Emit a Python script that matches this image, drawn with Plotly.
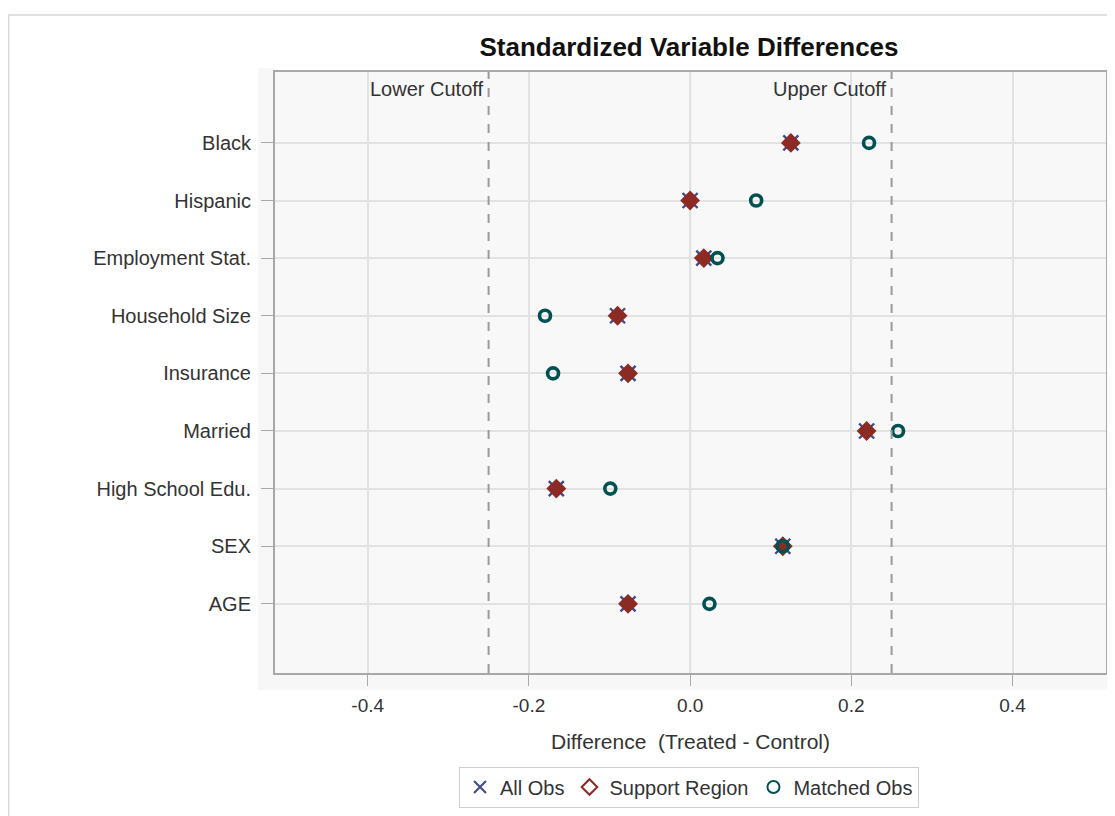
import plotly.graph_objects as go

categories = ["AGE", "SEX", "High School Edu.", "Married", "Insurance",
              "Household Size", "Employment Stat.", "Hispanic", "Black"]
all_obs = [-0.077, 0.115, -0.166, 0.219, -0.077, -0.090, 0.017, 0.000, 0.125]
support_region = [-0.077, 0.115, -0.166, 0.219, -0.077, -0.090, 0.017, 0.000, 0.125]
matched_obs = [0.024, 0.115, -0.099, 0.258, -0.170, -0.180, 0.034, 0.082, 0.222]
cutoffs = [-0.25, 0.25]
x_ticks = [-0.4, -0.2, 0.0, 0.2, 0.4]

FONT = "Liberation Sans, Arial, sans-serif"
OFF = 8                      # page body margin
L, R, T, B = 275, 1108, 72, 673   # plot frame in page pixels
W, H = 1115 - OFF, 816 - OFF
BLUE, RED, TEAL = "#3d4a8e", "#8c2a24", "#005250"

def px_x(p):
    return (p - L) / (R - L)

def px_y(p):
    return (B - p) / (B - T)

fig = go.Figure()
fig.add_trace(go.Scatter(
    x=all_obs, y=categories, mode="markers", name="All Obs",
    marker=dict(symbol="x-thin-open", size=15, color=BLUE,
                line=dict(width=2.4, color=BLUE)),
))
# solid fill beneath the open diamond so overlapping markers read as a solid glyph
fig.add_trace(go.Scatter(
    x=support_region, y=categories, mode="markers", showlegend=False,
    hoverinfo="skip",
    marker=dict(symbol="diamond", size=12, color=RED, line=dict(width=0)),
))
fig.add_trace(go.Scatter(
    x=support_region, y=categories, mode="markers", name="Support Region",
    marker=dict(symbol="diamond-open", size=12, color=RED,
                line=dict(width=3, color=RED)),
))
fig.add_trace(go.Scatter(
    x=matched_obs, y=categories, mode="markers", name="Matched Obs",
    marker=dict(symbol="circle-open", size=11, color=TEAL,
                line=dict(width=3.6, color=TEAL)),
))

shapes = []
for c in cutoffs:
    shapes.append(dict(type="line", xref="x", yref="paper", x0=c, x1=c, y0=0, y1=1,
                       line=dict(color="#9a9a9a", width=2, dash="dash"), layer="above"))
shapes.append(dict(type="line", xref="x", yref="paper", x0=0, x1=0, y0=0, y1=1,
                   line=dict(color="#c4c4c4", width=2), layer="below"))
shapes.append(dict(type="rect", xref="paper", yref="paper",
                   x0=px_x(8), x1=px_x(1125), y0=px_y(830), y1=px_y(15),
                   line=dict(color="#d8d8d8", width=1.5), fillcolor="rgba(0,0,0,0)"))
shapes.append(dict(type="rect", xref="paper", yref="paper",
                   x0=px_x(258), x1=px_x(L), y0=px_y(690), y1=px_y(68),
                   line=dict(width=0), fillcolor="#f7f7f7", layer="below"))
shapes.append(dict(type="rect", xref="paper", yref="paper",
                   x0=px_x(258), x1=px_x(1112), y0=px_y(690), y1=px_y(B),
                   line=dict(width=0), fillcolor="#f7f7f7", layer="below"))

annotations = [
    dict(text="Lower Cutoff", x=cutoffs[0], xref="x", y=px_y(89), yref="paper",
         xanchor="right", xshift=-4, yanchor="middle", showarrow=False,
         font=dict(family=FONT, size=20, color="#333333")),
    dict(text="Upper Cutoff", x=cutoffs[1], xref="x", y=px_y(89), yref="paper",
         xanchor="right", xshift=-4, yanchor="middle", showarrow=False,
         font=dict(family=FONT, size=20, color="#333333")),
]

fig.update_layout(
    width=W, height=H,
    margin=dict(l=L - OFF, r=OFF + W - R, t=T - OFF, b=OFF + H - B),
    paper_bgcolor="white",
    plot_bgcolor="#f8f8f8",
    title=dict(text="<b>Standardized Variable Differences</b>", x=px_x(690),
               xref="paper", xanchor="center", y=1 - (47 - OFF) / H, yanchor="middle",
               font=dict(family=FONT, size=26, color="#111111")),
    font=dict(family=FONT, size=20, color="#333333"),
    xaxis=dict(range=[-0.515, 0.516], tickvals=x_ticks,
               ticktext=["-0.4", "-0.2", "0.0", "0.2", "0.4"],
               showgrid=True, gridcolor="#e2e2e2", gridwidth=1.5,
               zeroline=False, showline=True, linecolor="#a8a8a8", linewidth=2,
               mirror=True, ticks="outside", ticklen=11, tickcolor="#a8a8a8",
               ticklabelstandoff=3,
               tickfont=dict(family=FONT, size=19, color="#333333")),
    yaxis=dict(type="category", categoryorder="array", categoryarray=categories,
               range=[-1.2, 9.23], showgrid=True, gridcolor="#e2e2e2", gridwidth=1.5,
               zeroline=False, showline=True, linecolor="#a8a8a8", linewidth=2,
               mirror=True, ticks="outside", ticklen=12, tickcolor="#a8a8a8",
               ticklabelstandoff=6,
               tickfont=dict(family=FONT, size=20, color="#333333")),
    legend=dict(orientation="h", x=px_x(690), xanchor="center",
                y=px_y(787), yanchor="middle",
                bordercolor="#cfcfcf", borderwidth=1, bgcolor="white",
                font=dict(family=FONT, size=20, color="#333333"),
                itemsizing="constant", itemwidth=30),
    shapes=shapes,
    annotations=annotations,
    showlegend=True,
)
fig.update_xaxes(title=dict(text="Difference  (Treated - Control)", standoff=20,
                            font=dict(family=FONT, size=21, color="#333333")))

fig.write_html("out.html")
